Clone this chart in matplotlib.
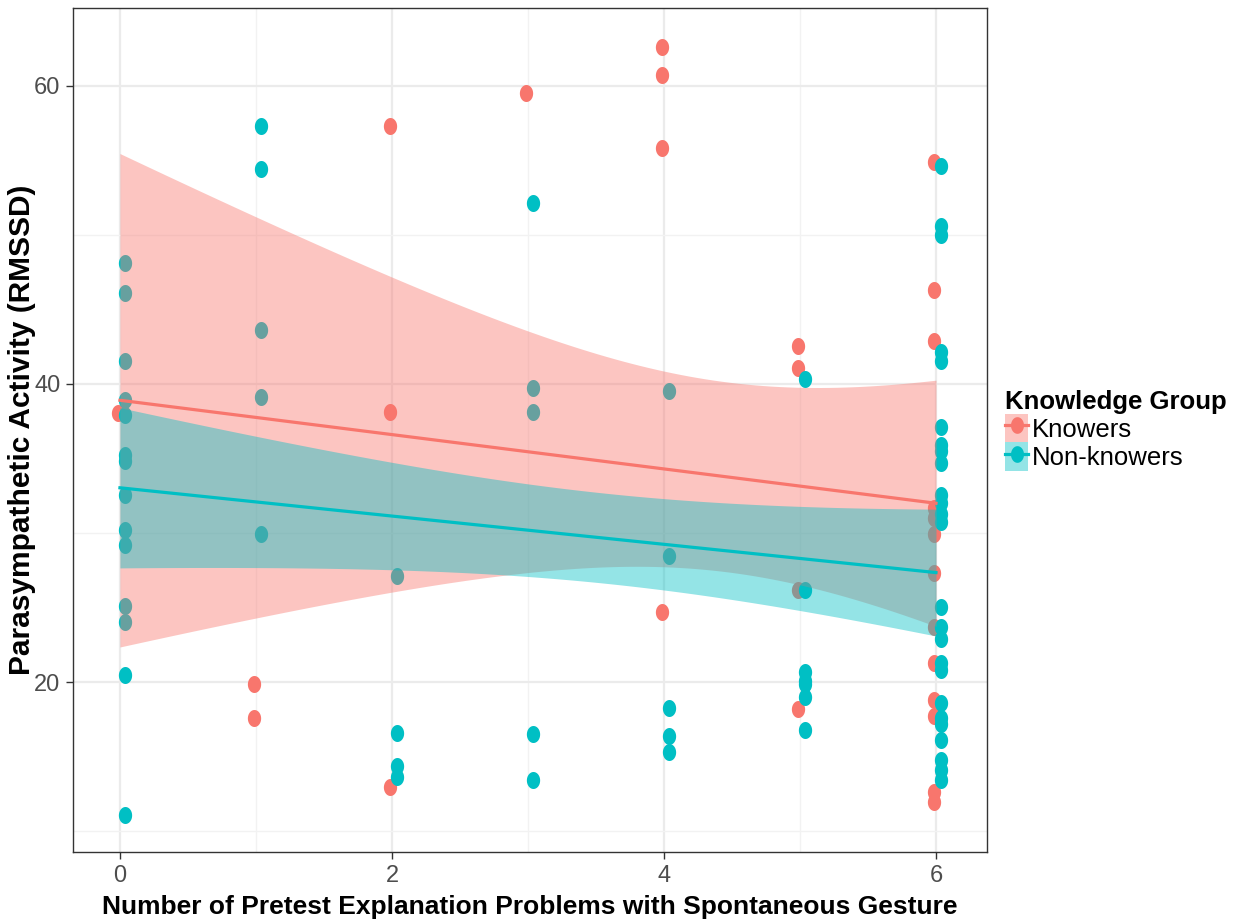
import numpy as np
import matplotlib
matplotlib.use("Agg")
import matplotlib.pyplot as plt
from matplotlib.lines import Line2D
from matplotlib.patches import Patch
from matplotlib.path import Path

# gesture count (x) and RMSSD (y), per knowledge group
knowers_x = [0, 1, 1, 2, 2, 2, 3, 4, 4, 4, 4, 5, 5, 5, 5,
             6, 6, 6, 6, 6, 6, 6, 6, 6, 6, 6, 6, 6]
knowers_y = [38.05, 19.87, 17.6, 57.3, 38.1, 12.95, 59.5, 62.6, 60.7, 55.8, 24.7,
             42.55, 41.07, 26.2, 18.2,
             54.85, 46.3, 42.9, 31.7, 31.0, 29.9, 27.3, 23.7, 21.3, 18.8, 17.7, 12.6, 11.95]

nonknowers_x = [0] * 14 + [1] * 5 + [2] * 4 + [3] * 5 + [4] * 5 + [5] * 7 + [6] * 25
nonknowers_y = [48.1, 46.1, 41.5, 38.9, 37.9, 35.2, 34.8, 32.55, 30.2, 29.2, 25.1, 24.0, 20.5, 11.1,
                57.3, 54.4, 43.6, 39.1, 29.9,
                27.1, 16.6, 14.4, 13.6,
                52.1, 39.7, 38.1, 16.5, 13.4,
                39.5, 28.45, 18.26, 16.4, 15.3,
                40.3, 26.2, 20.7, 20.1, 19.9, 18.97, 16.8,
                54.6, 50.6, 50.0, 42.1, 41.5, 37.1, 35.9, 35.5, 34.7, 32.55, 32.0, 31.3, 30.7,
                25.0, 23.7, 22.9, 21.3, 20.8, 18.6, 17.6, 17.2, 16.1, 14.8, 14.1, 13.4]

groups = ["Knowers", "Non-knowers"]
colors = {"Knowers": "#F8766D", "Non-knowers": "#00BFC4"}
dodge = {"Knowers": -0.015, "Non-knowers": 0.035}

plt.rcParams["font.family"] = ["Liberation Sans", "DejaVu Sans"]

# points look like squeezed circles in the reference
theta = np.linspace(0, 2 * np.pi, 60)
ellipse = Path(np.column_stack([0.78 * np.cos(theta), np.sin(theta)]))


def t_crit(df):
    z = 1.959964
    return z + (z**3 + z) / (4 * df) + (5 * z**5 + 16 * z**3 + 3 * z) / (96 * df**2)


def lm_band(x, y, grid):
    x = np.asarray(x, float)
    y = np.asarray(y, float)
    slope, icept = np.polyfit(x, y, 1)
    fit = icept + slope * grid
    resid = y - (icept + slope * x)
    n = len(x)
    s = np.sqrt(np.sum(resid**2) / (n - 2))
    se = s * np.sqrt(1 / n + (grid - x.mean()) ** 2 / np.sum((x - x.mean()) ** 2))
    half = t_crit(n - 2) * se
    return fit, fit - half, fit + half


fig = plt.figure(figsize=(12.44, 9.23), dpi=100)
ax = fig.add_axes([0.0587, 0.0769, 0.7347, 0.9144])

data = {"Knowers": (knowers_x, knowers_y), "Non-knowers": (nonknowers_x, nonknowers_y)}
for g in groups:
    gx, gy = data[g]
    ax.scatter(np.asarray(gx) + dodge[g], gy, s=150, marker=ellipse, color=colors[g],
               linewidths=0, zorder=3)

grid = np.linspace(0, 6, 100)
z = 4
for g in groups:
    gx, gy = data[g]
    fit, lo, hi = lm_band(gx, gy, grid)
    ax.fill_between(grid, lo, hi, color=colors[g], alpha=0.42, linewidth=0, zorder=z)
    ax.plot(grid, fit, color=colors[g], lw=2.3, zorder=z + 1)
    z += 2

ax.set_xlim(-0.345, 6.375)
ax.set_ylim(8.6, 65.2)
ax.set_xticks([0, 2, 4, 6])
ax.set_xticks([1, 3, 5], minor=True)
ax.set_yticks([20, 40, 60])
ax.set_yticks([10, 30, 50], minor=True)
ax.grid(which="major", color="#EBEBEB", lw=1.6, zorder=0)
ax.grid(which="minor", color="#F2F2F2", lw=1.0, zorder=0)
ax.set_axisbelow(True)
ax.tick_params(which="major", length=5, width=1, color="#333333", labelcolor="#4D4D4D",
               labelsize=17, pad=4)
ax.tick_params(which="minor", length=0)
for sp in ax.spines.values():
    sp.set_color("#333333")
    sp.set_linewidth(1)

ax.set_xlabel("Number of Pretest Explanation Problems with Spontaneous Gesture",
              fontsize=19, fontweight="bold", labelpad=6)
ax.set_ylabel("Parasympathetic Activity (RMSSD)", fontsize=21.5, fontweight="bold")
ax.yaxis.set_label_coords(-0.0405, 0.5)

handles = []
for g in groups:
    patch = Patch(facecolor=colors[g], alpha=0.42, linewidth=0)
    line = Line2D([], [], color=colors[g], lw=2.3, marker=ellipse, markersize=12,
                  markeredgewidth=0)
    handles.append((patch, line))
leg = fig.legend(handles, groups, loc="upper left", bbox_to_anchor=(0.808, 0.578),
                 frameon=False, title="Knowledge Group", alignment="left",
                 fontsize=18.5, title_fontproperties={"size": 18.5, "weight": "bold"},
                 handlelength=0.9, handleheight=1.35, handletextpad=0.15,
                 labelspacing=0.0, borderpad=0, borderaxespad=0)

fig.savefig("out.png", dpi=100)
